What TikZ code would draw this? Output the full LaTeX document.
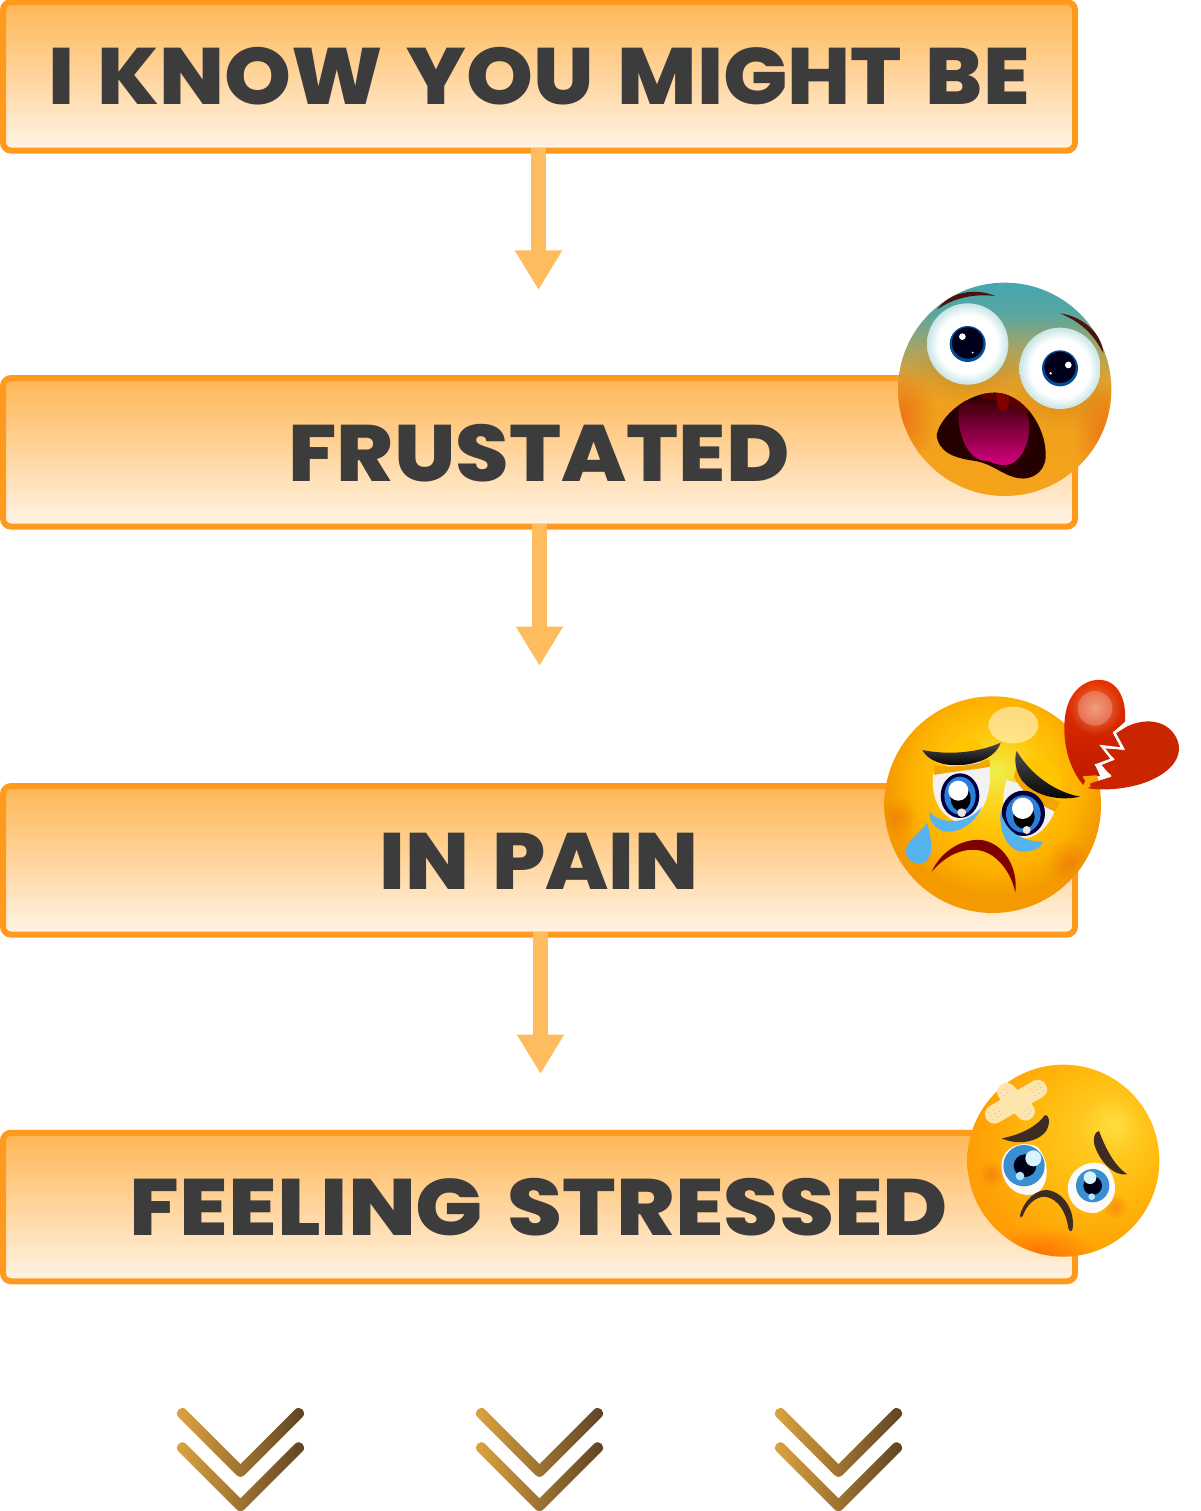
\documentclass[tikz,border=0pt]{standalone}
\usepackage{graphicx}
\usepackage{fontspec}
\usetikzlibrary{arrows.meta,fadings}
\IfFontExistsTF{Poppins ExtraBold}{\newfontfamily\labelfont{Poppins ExtraBold}[WordSpace=1.45]}{\newfontfamily\labelfont{Poppins}[UprightFont=*-Bold,WordSpace=1.45]}
\definecolor{boxedge}{HTML}{FF9A1F}
\definecolor{boxtop}{HTML}{FFB655}
\definecolor{boxbot}{HTML}{FFF4E6}
\definecolor{arrowc}{HTML}{FFBC5E}
\definecolor{inkc}{HTML}{3C3C3C}
\definecolor{chevL}{HTML}{DFA540}
\definecolor{chevR}{HTML}{5C4123}
\definecolor{tearc}{HTML}{55B4F0}
\definecolor{lidc}{HTML}{FFC600}
\definecolor{bandc}{HTML}{F2A400}
\definecolor{irisa}{HTML}{2C7FD8}
\definecolor{irisb}{HTML}{3A8FD0}
\definecolor{browa}{HTML}{4A140A}
\definecolor{browb}{HTML}{3E2C22}
\definecolor{rimc}{HTML}{E8590F}
\definecolor{plaster}{HTML}{FCE6AE}
\definecolor{plasterd}{HTML}{E9C98A}
\definecolor{paA}{HTML}{EEF04E}
\definecolor{paB}{HTML}{FAD92A}
\definecolor{paC}{HTML}{FFC60A}
\definecolor{paD}{HTML}{FDB000}
\definecolor{paE}{HTML}{F49A00}
\definecolor{stA}{HTML}{FFDE3E}
\definecolor{stB}{HTML}{FFC81E}
\definecolor{stC}{HTML}{FFB70C}
\definecolor{stD}{HTML}{FF9E05}
\definecolor{stE}{HTML}{FF8A08}
\definecolor{eyeE}{HTML}{C9E4E6}
\definecolor{feA}{HTML}{F5A31A}
\definecolor{feB}{HTML}{F0A01E}
\definecolor{feC}{HTML}{E2A22C}
\definecolor{feD}{HTML}{A3A466}
\definecolor{feE}{HTML}{57A6A2}
\definecolor{feF}{HTML}{46A6AE}
\tikzfading[name=blobf, inner color=transparent!0, outer color=transparent!100]
\pgfdeclareradialshading{painface}{\pgfpoint{1bp}{8bp}}{color(0bp)=(paA);color(5bp)=(paB);color(11bp)=(paC);color(20bp)=(paD);color(25bp)=(paE);color(50bp)=(paE)}
\pgfdeclareradialshading{stressface}{\pgfpoint{14bp}{10bp}}{color(0bp)=(stA);color(8bp)=(stB);color(18bp)=(stC);color(30bp)=(stD);color(42bp)=(stE);color(50bp)=(stE)}
\pgfdeclareradialshading{eyewhite}{\pgfpoint{0bp}{0bp}}{color(0bp)=(white);color(18bp)=(white);color(25bp)=(eyeE);color(50bp)=(eyeE)}
\pgfdeclareverticalshading{fearface}{100bp}{color(0bp)=(feA);color(25bp)=(feA);color(47bp)=(feB);color(52bp)=(feC);color(60bp)=(feD);color(68bp)=(feE);color(75bp)=(feF);color(100bp)=(feF)}
\newcommand{\fitline}[3]{\smash{\raisebox{-28.7pt}{\resizebox{#1}{#2}{#3}}}}
\tikzset{
  px/.style={x=1pt,y=-1pt},
  boxnode/.style={draw=boxedge,line width=6pt,rounded corners=8pt,top color=boxtop,bottom color=boxbot,
    minimum width=1072pt,minimum height=148.5pt,inner sep=0pt,outer sep=3pt,text=inkc,font=\labelfont},
  conn/.style={draw=arrowc,line width=15pt,-{Triangle[length=39.5pt,width=44.5pt,sharp]}},
  zoomed/.style={x=0.33333pt,y=-0.33333pt},
  blob/.style={path fading=blobf},
  chevfill/.style={left color=chevL,right color=chevR},
}
% one chevron: #1 centre x, #2 y of the arm ends
\newcommand{\chevarm}[2]{%
  \path[chevfill]
   (#1-54.5,#2-3.75) .. controls (#1-59.5,#2-8.75) and (#1-67,#2-1.25) .. (#1-62,#2+3.75)
   -- (#1-4,#2+61.7) .. controls (#1-1.5,#2+64.2) and (#1+1.5,#2+64.2) .. (#1+4,#2+61.7)
   -- (#1+62,#2+3.75) .. controls (#1+67,#2-1.25) and (#1+59.5,#2-8.75) .. (#1+54.5,#2-3.75)
   -- (#1,#2+50.7) -- cycle;
}
\begin{document}
\begin{tikzpicture}[px]
\useasboundingbox (0,0) rectangle (1200,1511);
\node[boxnode] (b1) at (539,76.3) {\fitline{981pt}{57.2pt}{I KNOW YOU MIGHT BE}};
\node[boxnode] (b2) at (539,452.3) {\fitline{501pt}{57.2pt}{FRUSTATED}};
\node[boxnode] (b3) at (539,860.3) {\fitline{319pt}{56.3pt}{IN PAIN}};
\node[boxnode] (b4) at (539,1207) {\fitline{818pt}{57.2pt}{FEELING STRESSED}};
\coordinate (t1) at (538.5,290);
\coordinate (t2) at (539.5,666);
\coordinate (t3) at (540.5,1074);
\draw[conn] ([yshift=6pt]b1.south -| t1) -- (t1);
\draw[conn] ([yshift=6pt]b2.south -| t2) -- (t2);
\draw[conn] ([yshift=6pt]b3.south -| t3) -- (t3);
% frightened emoji
\begin{scope}[shift={(880,270)},zoomed]
 \begin{scope}
  \clip (374,358) circle[radius=320];
  \shade[shading=fearface] (374,358) circle[radius=320];
  \fill[rimc,opacity=.6,blob] (60,440) ellipse[x radius=110,y radius=150];
  \fill[rimc,opacity=.6,blob] (680,490) ellipse[x radius=100,y radius=150];
  \fill[black!50!orange,opacity=.18,blob] (263,300) ellipse[x radius=170,y radius=100];
  \fill[black!50!orange,opacity=.18,blob] (545,380) ellipse[x radius=170,y radius=100];
 \end{scope}
 \fill[browa] (172,118) .. controls (205,70) and (280,50) .. (345,78) .. controls (280,70) and (220,85) .. (172,118) -- cycle;
 \fill[browa] (540,130) .. controls (610,140) and (665,190) .. (670,250) .. controls (640,190) and (600,155) .. (540,130) -- cycle;
 \shade[shading=eyewhite] (263,222) circle[radius=122];
 \shade[shading=eyewhite] (540,295) circle[radius=122];
 \fill[blue!50!cyan!60!black] (263,222) circle[radius=54];
 \fill[blue!90!black!12!black] (263,219) circle[radius=47];
 \fill[white] (247,200) circle[radius=10];
 \fill[white] (278,248) circle[radius=3];
 \fill[blue!50!cyan!60!black] (540,295) circle[radius=54];
 \fill[blue!90!black!12!black] (540,292) circle[radius=47];
 \fill[white] (565,285) circle[radius=10];
 \fill[white] (512,310) circle[radius=4];
 \begin{scope}
  \path[clip] (170,495) .. controls (180,440) and (260,368) .. (345,368) .. controls (430,370) and (500,470) .. (497,560) .. controls (495,610) and (450,630) .. (420,625) .. controls (370,620) and (340,580) .. (280,572) .. controls (230,565) and (175,550) .. (170,495) -- cycle;
  \fill[black!85!red] (150,350) rectangle (520,640);
  \fill[red!35!black] (300,368) .. controls (320,440) and (420,480) .. (450,420) -- (400,350) -- cycle;
  \shade[top color=black!80!red,bottom color=magenta!60!red!85!black] (238,400) .. controls (280,380) and (400,380) .. (445,440) .. controls (460,510) and (420,590) .. (370,585) .. controls (340,585) and (330,570) .. (310,572) .. controls (260,565) and (225,480) .. (238,400) -- cycle;
  \fill[red!50!black] (352,368) -- (385,368) .. controls (390,400) and (385,422) .. (368,424) .. controls (350,422) and (347,400) .. (352,368) -- cycle;
 \end{scope}
\end{scope}
% pain emoji
\begin{scope}[shift={(870,670)},zoomed]
 \begin{scope}
  \clip (368,404) circle[radius=325];
  \shade[shading=painface] (368,404) circle[radius=325];
  \fill[rimc,opacity=.35,blob] (85,440) circle[radius=60];
  \fill[rimc,opacity=.35,blob] (595,575) circle[radius=65];
 \end{scope}
 \fill[white,opacity=.5] (430,165) ellipse[x radius=75,y radius=55];
 % left eye
 \fill[lidc] (195,300) .. controls (210,215) and (330,170) .. (345,250) -- (360,290) -- cycle;
 \fill[white!90!gray] (190,310) .. controls (215,280) and (320,260) .. (360,285) .. controls (365,370) and (345,440) .. (275,460) .. controls (215,445) and (180,390) .. (190,310) -- cycle;
 \fill[bandc] (195,285) .. controls (250,295) and (320,285) .. (358,268) -- (360,290) .. controls (310,300) and (240,305) .. (192,315) -- cycle;
 \fill[blue!25!black] (270,377) ellipse[x radius=58,y radius=67];
 \fill[irisa] (270,377) ellipse[x radius=47,y radius=57];
 \fill[black] (272,385) ellipse[x radius=30,y radius=38];
 \fill[white] (265,362) circle[radius=30];
 \fill[white!90!black] (275,428) circle[radius=13];
 % right eye
 \fill[lidc] (440,300) .. controls (460,250) and (560,240) .. (575,340) -- (570,390) -- cycle;
 \fill[white!90!gray] (410,330) .. controls (470,345) and (530,380) .. (560,395) .. controls (555,450) and (510,500) .. (465,505) .. controls (420,495) and (380,420) .. (410,330) -- cycle;
 \fill[bandc] (440,290) .. controls (470,340) and (530,385) .. (570,395) -- (555,425) .. controls (500,400) and (450,360) .. (432,320) -- cycle;
 \fill[blue!25!black] (460,430) ellipse[x radius=65,y radius=68];
 \fill[irisa] (460,432) ellipse[x radius=52,y radius=56];
 \fill[black] (462,440) ellipse[x radius=32,y radius=36];
 \fill[white] (458,415) circle[radius=32];
 \fill[white!90!black] (470,480) circle[radius=12];
 % brows
 \shade[top color=black!70,bottom color=black] (157,240) .. controls (230,255) and (320,250) .. (392,218) .. controls (375,270) and (300,290) .. (240,285) .. controls (200,280) and (170,265) .. (157,240) -- cycle;
 \shade[top color=black!70,bottom color=black] (440,243) .. controls (480,310) and (550,365) .. (630,380) .. controls (560,395) and (490,375) .. (455,330) .. controls (435,300) and (432,265) .. (440,243) -- cycle;
 % tears
 \fill[tearc] (178,425) .. controls (205,460) and (290,470) .. (335,410) .. controls (320,455) and (270,490) .. (225,485) .. controls (195,478) and (175,450) .. (178,425) -- cycle;
 \fill[tearc] (392,425) .. controls (405,480) and (450,515) .. (518,515) .. controls (515,535) and (490,545) .. (450,545) .. controls (410,535) and (385,480) .. (392,425) -- cycle;
 \fill[tearc] (172,458) .. controls (180,500) and (195,545) .. (170,572) .. controls (145,592) and (105,575) .. (108,540) .. controls (112,510) and (150,490) .. (172,458) -- cycle;
 % mouth
 \fill[red!50!black] (185,605) .. controls (215,540) and (280,505) .. (335,510) .. controls (400,520) and (445,590) .. (436,668) .. controls (425,610) and (380,545) .. (320,540) .. controls (265,535) and (220,565) .. (185,605) -- cycle;
 % heart
 \shade[top color=red!55!orange!90!black,bottom color=red!75!orange!75!black] (640,345) .. controls (600,300) and (575,220) .. (585,140) .. controls (595,60) and (650,25) .. (695,30) .. controls (745,35) and (770,90) .. (765,155) -- (728,188) -- (755,235) -- (692,225) -- (722,268) -- (675,285) -- (690,318) -- (650,320) -- cycle;
 \shade[left color=red!65!orange!80!black,right color=red!60!orange!78!black] (770,170) .. controls (820,145) and (890,145) .. (920,205) .. controls (950,270) and (880,330) .. (780,350) .. controls (730,360) and (690,360) .. (655,355) -- (662,340) -- (725,320) -- (695,285) -- (735,268) -- (700,235) -- (765,238) -- (738,190) -- cycle;
 \fill[red!20!orange!35!white,opacity=.55,blob] (675,115) circle[radius=80];
 \fill[white,opacity=.22] (675,115) circle[radius=52];
 \draw[white,line width=2.4pt,line join=miter] (765,163) -- (733,188) -- (758,236) -- (696,229) -- (727,268) -- (680,285) -- (722,319);
 \draw[orange!70!yellow,line width=2.2pt] (680,319) -- (643,322) -- (660,350);
\end{scope}
% stressed emoji
\begin{scope}[shift={(950,1050)},zoomed]
 \begin{scope}
  \clip (340,332) circle[radius=288];
  \shade[shading=stressface] (340,332) circle[radius=288];
  \fill[red!60!orange,opacity=.4,blob] (270,610) ellipse[x radius=170,y radius=80];
  \fill[rimc,opacity=.4,blob] (125,372) circle[radius=40];
  \fill[rimc,opacity=.4,blob] (495,470) circle[radius=40];
 \end{scope}
 \begin{scope}[rotate around={-45:(198,155)}]
  \fill[plaster,rounded corners=9pt] (130,127) rectangle (266,183);
  \foreach \dx in {146,160,236,250} \foreach \dy in {143,155,167} \fill[plasterd] (\dx,\dy) circle[radius=2.5];
 \end{scope}
 \begin{scope}[rotate around={30:(198,155)}]
  \fill[plaster,rounded corners=9pt] (95,127) rectangle (301,183);
  \foreach \dx in {112,126,140,256,270,284} \foreach \dy in {143,155,167} \fill[plasterd] (\dx,\dy) circle[radius=2.5];
 \end{scope}
 \fill[white!92!pink] (155,340) .. controls (160,290) and (215,270) .. (260,290) .. controls (295,320) and (305,400) .. (260,430) .. controls (200,450) and (150,400) .. (155,340) -- cycle;
 \fill[white!92!pink] (355,400) .. controls (365,350) and (430,320) .. (470,350) .. controls (505,390) and (510,460) .. (440,488) .. controls (385,495) and (345,450) .. (355,400) -- cycle;
 \fill[irisb] (222,347) circle[radius=62];
 \fill[black!90!blue] (225,347) circle[radius=34];
 \fill[white!85!cyan] (250,325) circle[radius=24];
 \fill[white!70!cyan] (210,378) circle[radius=13];
 \fill[irisb] (428,407) circle[radius=50];
 \fill[black!90!blue] (428,407) circle[radius=28];
 \fill[white!85!cyan] (420,383) circle[radius=19];
 \fill[white!70!cyan] (425,440) circle[radius=10];
 \fill[browb] (155,265) .. controls (210,255) and (260,230) .. (285,195) .. controls (300,195) and (300,220) .. (290,240) .. controls (265,280) and (195,285) .. (155,265) -- cycle;
 \fill[browb] (447,243) .. controls (465,290) and (490,345) .. (532,373) .. controls (490,380) and (445,330) .. (432,280) .. controls (430,260) and (435,245) .. (447,243) -- cycle;
 \fill[browb] (210,495) .. controls (225,445) and (260,420) .. (290,420) .. controls (340,425) and (375,480) .. (368,535) .. controls (365,548) and (358,545) .. (355,535) .. controls (350,490) and (325,445) .. (285,440) .. controls (255,440) and (230,465) .. (218,498) .. controls (213,505) and (208,502) .. (210,495) -- cycle;
\end{scope}
% chevrons
\chevarm{240.5}{1413.3}\chevarm{240.5}{1447.6}
\chevarm{539.5}{1413.3}\chevarm{539.5}{1447.6}
\chevarm{838.5}{1413.3}\chevarm{838.5}{1447.6}
\end{tikzpicture}
\end{document}
